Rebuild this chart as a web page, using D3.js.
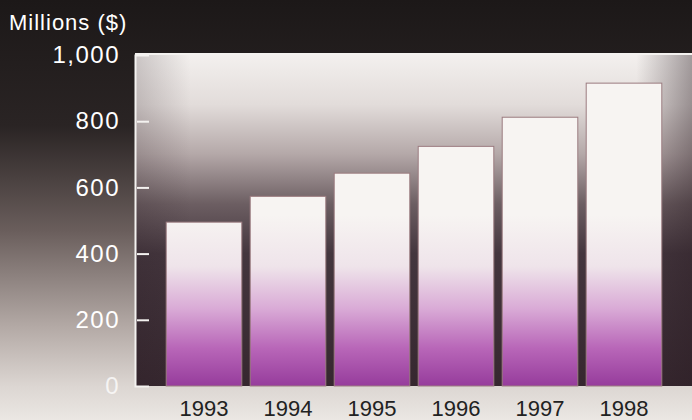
<!DOCTYPE html>
<html>
<head>
  <meta charset="utf-8">
  <script src="https://d3js.org/d3.v7.min.js"></script>
  <style>
  body { margin: 0; background: #1c1818; }
  svg { display: block; font-family: "Liberation Sans", Arial, sans-serif; }
  </style>
</head>
<body>
<div id="chart"></div>
<script>
  // data
  var years = ["1993", "1994", "1995", "1996", "1997", "1998"];
  var sales = [495, 573, 643, 724, 812, 915];
  var yTicks = [0, 200, 400, 600, 800, 1000];

  var W = 692, H = 420;
  var panelLeft = 135, panelTop = 55, panelRight = 692, panelBottom = 386;

  var svg = d3.select("#chart").append("svg")
    .attr("width", W)
    .attr("height", H);

  var defs = svg.append("defs");

  function grad(id, a, b, stops, horiz) {
    var g = defs.append("linearGradient").attr("id", id)
      .attr("gradientUnits", "userSpaceOnUse");
    if (horiz) g.attr("x1", a).attr("x2", b).attr("y1", 0).attr("y2", 0);
    else g.attr("x1", 0).attr("x2", 0).attr("y1", a).attr("y2", b);
    stops.forEach(function(s) {
      g.append("stop").attr("offset", s[0]).attr("stop-color", s[1])
        .attr("stop-opacity", s[2] == null ? 1 : s[2]);
    });
  }

  // page background: dark at the top, pale at the foot
  grad("bgGrad", 0, H, [
    [0, "#1c1818"], [0.3, "#2a2424"], [0.55, "#6a5e5c"],
    [0.78, "#b4aaa6"], [0.92, "#dcd6d2"], [1, "#ebe7e3"]
  ]);
  // panel: white top fading into dark plum
  grad("panelGrad", panelTop, panelBottom, [
    [0, "#f3f0ee"], [0.15, "#e2dcda"], [0.3, "#b4a8a8"],
    [0.45, "#6c5e62"], [0.6, "#44363e"], [1, "#36272f"]
  ]);
  grad("panelSide", panelLeft, panelRight, [
    [0, "#2a1c22", 0.2], [0.1, "#2a1c22", 0], [0.9, "#2a1c22", 0], [1, "#2a1c22", 0.4]
  ], true);
  // bars: white top, purple base
  grad("barGrad", 215, panelBottom, [
    [0, "#f7f4f2"], [0.3, "#efe4ea"], [0.55, "#d9aad6"],
    [0.78, "#b866b8"], [1, "#963c9c"]
  ]);

  svg.append("rect").attr("width", W).attr("height", H).attr("fill", "url(#bgGrad)");

  svg.append("rect")
    .attr("x", panelLeft).attr("y", panelTop)
    .attr("width", panelRight - panelLeft).attr("height", panelBottom - panelTop)
    .attr("fill", "url(#panelGrad)");
  svg.append("rect")
    .attr("x", panelLeft).attr("y", panelTop)
    .attr("width", panelRight - panelLeft).attr("height", panelBottom - panelTop)
    .attr("fill", "url(#panelSide)");

  var x = d3.scaleBand().domain(years).range([162, 666])
    .paddingInner(0.1).paddingOuter(0.05);
  var y = d3.scaleLinear().domain([0, 1000]).range([panelBottom, panelTop]);

  svg.selectAll(".bar")
    .data(years)
    .enter().append("rect")
    .attr("class", "bar")
    .attr("x", function(d) { return x(d); })
    .attr("width", x.bandwidth())
    .attr("y", function(d, i) { return y(sales[i]); })
    .attr("height", function(d, i) { return y(0) - y(sales[i]); })
    .attr("fill", "url(#barGrad)")
    .attr("stroke", "#9c7c80")
    .attr("stroke-width", 1);

  // top border of the panel
  svg.append("line")
    .attr("x1", panelLeft).attr("x2", panelRight)
    .attr("y1", panelTop - 1).attr("y2", panelTop - 1)
    .attr("stroke", "#f4f2f0").attr("stroke-width", 2);

  // y axis
  var yAxis = svg.append("g")
    .attr("transform", "translate(" + panelLeft + ",0)")
    .call(d3.axisLeft(y).tickValues(yTicks)
      .tickSize(-14)
      .tickPadding(15)
      .tickFormat(d3.format(",")));
  yAxis.select(".domain").attr("stroke", "#f4f2f0").attr("stroke-width", 2);
  yAxis.selectAll(".tick line")
    .attr("stroke", "#f4f2f0").attr("stroke-width", 2)
    .attr("x1", 2)
    .style("display", function(d) { return (d === 0 || d === 1000) ? "none" : null; });
  yAxis.selectAll(".tick text")
    .attr("x", -15)
    .attr("fill", "#ffffff")
    .style("font-size", "24px")
    .style("letter-spacing", "1.5px")
    .attr("fill-opacity", function(d) { return d === 0 ? 0.75 : 1; });

  // x axis labels
  var xAxis = svg.append("g")
    .attr("transform", "translate(0," + panelBottom + ")")
    .call(d3.axisBottom(x).tickSize(0).tickPadding(14));
  xAxis.select(".domain").remove();
  xAxis.selectAll(".tick text")
    .attr("fill", "#222222")
    .style("font-size", "22px");

  // unit label
  svg.append("text")
    .attr("x", 9)
    .attr("y", 30)
    .attr("fill", "#ffffff")
    .style("font-size", "22px")
    .style("letter-spacing", "1px")
    .text("Millions ($)");
</script>
</body>
</html>
